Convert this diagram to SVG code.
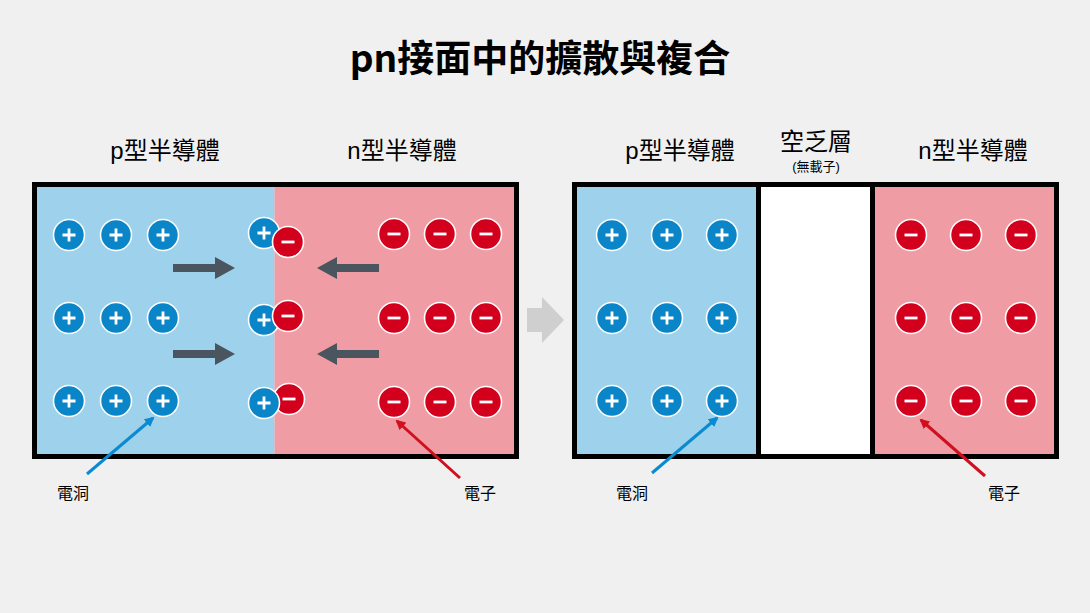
<svg xmlns="http://www.w3.org/2000/svg" width="1090" height="613" viewBox="0 0 1090 613">
<style>
text{font-family:"Liberation Sans","Noto Sans CJK TC",sans-serif;fill:#000}
.title{font-family:"Noto Sans CJK TC",sans-serif;font-weight:bold;font-size:37px}
.lbl{font-size:24px}
.sm{font-size:16px}
.xs{font-size:13px}
.frame{fill:none;stroke:#000;stroke-width:5}
.pbg{fill:#9dd1ec}
.nbg{fill:#f09ca4}
.hole circle{fill:#0a85c7;stroke:#fff;stroke-width:1.6}
.elec circle{fill:#d2001c;stroke:#fff;stroke-width:1.6}
.sym{stroke:#fff;stroke-width:2.8;fill:none}
.darr{fill:#4a5560}
</style>
<defs>
<g id="plus" class="hole"><circle r="15.5"/><path class="sym" d="M-6.5 0H6.5M0 -6.5V6.5"/></g>
<g id="minus" class="elec"><circle r="15.5"/><path class="sym" d="M-6.5 0H6.5" stroke-width="3.2"/></g>
<path id="rarr" class="darr" d="M0 -4H42V-11L62 0L42 11V4H0Z"/>
<marker id="mb" markerWidth="10" markerHeight="10" refX="8" refY="5" orient="auto" markerUnits="userSpaceOnUse" viewBox="0 0 10 10"><path d="M0 0L10 5L0 10Z" fill="#0a8ad0"/></marker>
<marker id="mr" markerWidth="10" markerHeight="10" refX="8" refY="5" orient="auto" markerUnits="userSpaceOnUse" viewBox="0 0 10 10"><path d="M0 0L10 5L0 10Z" fill="#d0101e"/></marker>
</defs>
<rect width="1090" height="613" fill="#f0f0f0"/>
<text class="title" x="540" y="72" text-anchor="middle">pn接面中的擴散與複合</text>

<g id="left-junction">
<rect class="pbg" x="34.5" y="184.5" width="240" height="272"/>
<rect class="nbg" x="274.5" y="184.5" width="242" height="272"/>
<rect class="frame" x="34.5" y="184.5" width="482" height="272"/>
</g>
<g id="left-labels">
<text class="lbl" x="165" y="159" text-anchor="middle">p型半導體</text>
<text class="lbl" x="402" y="159" text-anchor="middle">n型半導體</text>
</g>
<g id="left-holes">
<use href="#plus" x="69" y="235"/><use href="#plus" x="116" y="235"/><use href="#plus" x="163" y="235"/>
<use href="#plus" x="69" y="318"/><use href="#plus" x="116" y="318"/><use href="#plus" x="163" y="318"/>
<use href="#plus" x="69" y="401"/><use href="#plus" x="116" y="401"/><use href="#plus" x="163" y="401"/>
</g>
<g id="left-electrons">
<use href="#minus" x="394" y="234"/><use href="#minus" x="440" y="234"/><use href="#minus" x="486" y="234"/>
<use href="#minus" x="394" y="318"/><use href="#minus" x="440" y="318"/><use href="#minus" x="486" y="318"/>
<use href="#minus" x="394" y="402"/><use href="#minus" x="440" y="402"/><use href="#minus" x="486" y="402"/>
</g>
<g id="recombination">
<use href="#plus" x="264" y="233"/><use href="#minus" x="288" y="242"/>
<use href="#plus" x="264" y="320"/><use href="#minus" x="288" y="316"/>
<use href="#minus" x="289" y="399"/><use href="#plus" x="264" y="403"/>
</g>
<g id="diffusion-arrows">
<use href="#rarr" x="173" y="268"/>
<use href="#rarr" x="173" y="354"/>
<use href="#rarr" transform="translate(379 268) scale(-1 1)"/>
<use href="#rarr" transform="translate(379 354) scale(-1 1)"/>
</g>

<g id="transition-arrow">
<path d="M527 308H542V297L564 320L542 343V332H527Z" fill="#cfcfcf"/>
</g>

<g id="right-junction">
<rect class="pbg" x="574.5" y="184.5" width="184" height="272"/>
<rect x="758.5" y="184.5" width="114" height="272" fill="#fff"/>
<rect class="nbg" x="872.5" y="184.5" width="184" height="272"/>
<rect class="frame" x="574.5" y="184.5" width="482" height="272"/>
<line x1="758.5" y1="184.5" x2="758.5" y2="456.5" stroke="#000" stroke-width="5"/>
<line x1="872.5" y1="184.5" x2="872.5" y2="456.5" stroke="#000" stroke-width="5"/>
</g>
<g id="right-labels">
<text class="lbl" x="680" y="159" text-anchor="middle">p型半導體</text>
<text class="lbl" x="816" y="150" text-anchor="middle">空乏層</text>
<text class="xs" x="816" y="171" text-anchor="middle">(無載子)</text>
<text class="lbl" x="973" y="159" text-anchor="middle">n型半導體</text>
</g>
<g id="right-holes">
<use href="#plus" x="612" y="235"/><use href="#plus" x="667" y="235"/><use href="#plus" x="722" y="235"/>
<use href="#plus" x="612" y="318"/><use href="#plus" x="667" y="318"/><use href="#plus" x="722" y="318"/>
<use href="#plus" x="612" y="401"/><use href="#plus" x="667" y="401"/><use href="#plus" x="722" y="401"/>
</g>
<g id="right-electrons">
<use href="#minus" x="911" y="235"/><use href="#minus" x="966" y="235"/><use href="#minus" x="1021" y="235"/>
<use href="#minus" x="911" y="318"/><use href="#minus" x="966" y="318"/><use href="#minus" x="1021" y="318"/>
<use href="#minus" x="911" y="401"/><use href="#minus" x="966" y="401"/><use href="#minus" x="1021" y="401"/>
</g>

<g id="connectors">
<line x1="87" y1="474" x2="153" y2="418" stroke="#0a8ad0" stroke-width="3" marker-end="url(#mb)"/>
<line x1="460" y1="478" x2="397" y2="421" stroke="#d0101e" stroke-width="3" marker-end="url(#mr)"/>
<line x1="652" y1="473" x2="717" y2="418" stroke="#0a8ad0" stroke-width="3" marker-end="url(#mb)"/>
<line x1="985" y1="476" x2="921" y2="420" stroke="#d0101e" stroke-width="3" marker-end="url(#mr)"/>
</g>
<g id="annotations">
<text class="sm" x="73" y="499" text-anchor="middle">電洞</text>
<text class="sm" x="480" y="499" text-anchor="middle">電子</text>
<text class="sm" x="632" y="499" text-anchor="middle">電洞</text>
<text class="sm" x="1004" y="499" text-anchor="middle">電子</text>
</g>
</svg>
